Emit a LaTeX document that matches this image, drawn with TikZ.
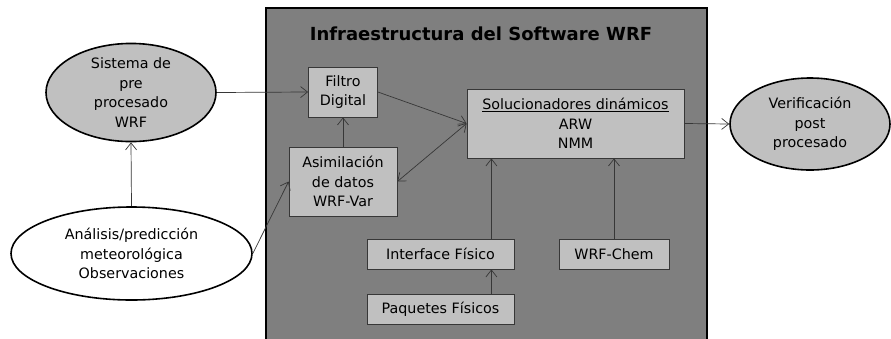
\documentclass[tikz,border=0pt]{standalone}
\usepackage{fontspec}
\setmainfont{DejaVu Sans}
\usetikzlibrary{arrows.meta,positioning,shapes.geometric}
\definecolor{panelgray}{RGB}{127,127,127}
\definecolor{boxgray}{RGB}{192,192,192}
\definecolor{linegray}{RGB}{55,55,55}

\begin{document}
\begin{tikzpicture}[
    x=1pt, y=-1pt,
    proc/.style={draw=linegray, fill=boxgray, line width=0.8pt, align=center,
                 inner sep=0pt, font=\fontsize{14.3}{19.5}\selectfont},
    oval/.style={ellipse, draw=black, line width=1.6pt, fill=boxgray, align=center,
                 inner sep=0pt, font=\fontsize{14.3}{19.5}\selectfont},
    flow/.style={-{Straight Barb[length=7pt,width=11pt]}, draw=linegray, line width=0.7pt}
]
\clip (0,0) rectangle (891,338);
\fill[white] (0,0) rectangle (891,338);

% software panel
\draw[fill=panelgray, line width=2pt] (266,8) rectangle (707,360);
\node[font=\bfseries\fontsize{18}{22}\selectfont] (title) at (481,34) {Infraestructura del Software WRF};

% boxes inside the panel
\node[proc, minimum width=69pt, minimum height=50pt] (filtro) at (343,92) {Filtro\\Digital};
\node[proc, minimum width=108pt, minimum height=69pt] (asim) at (343,181.5) {Asimilación\\de datos\\WRF-Var};
\node[proc, minimum width=217pt, minimum height=69pt] (soluc) at (575.5,123.5)
    {\underline{Solucionadores dinámicos}\\ARW\\NMM};
\node[proc, minimum width=147pt, minimum height=30pt] (interf) at (440.5,254) {Interface Físico};
\node[proc, minimum width=147pt, minimum height=30pt] (paq) at (440.5,309) {Paquetes Físicos};
\node[proc, minimum width=110pt, minimum height=30pt] (chem) at (614,254) {WRF-Chem};

% ellipses outside
\node[oval, minimum width=170pt, minimum height=89pt] (sist) at (131,92.5) {Sistema de\\pre\\procesado\\WRF};
\node[oval, fill=white, minimum width=241pt, minimum height=93pt] (anal) at (131.5,253.5)
    {Análisis/predicción\\meteorológica\\Observaciones};
\node[oval, minimum width=160pt, minimum height=92pt] (verif) at (810,124) {Verificación\\post\\procesado};

% connectors
\draw[flow] (sist.east) -- (filtro.west);
\draw[flow] (anal.north) -- (sist.south);
\draw[flow] (anal.east) -- (asim.west);
\draw[flow] (asim.north) -- (filtro.south);
\draw[flow] (filtro.east) -- (soluc.west);
\draw[flow, {Straight Barb[length=7pt,width=11pt]}-{Straight Barb[length=7pt,width=11pt]}] (asim.east) -- (soluc.west);
\draw[flow] ([xshift=-23pt]interf.north east) -- ([xshift=-23pt]interf.north east |- soluc.south);
\draw[flow] ([xshift=-23pt]paq.north east) -- ([xshift=-23pt]interf.south east);
\draw[flow] (chem.north) -- (chem.north |- soluc.south);
\draw[flow] (soluc.east) -- (verif.west);
\end{tikzpicture}
\end{document}
